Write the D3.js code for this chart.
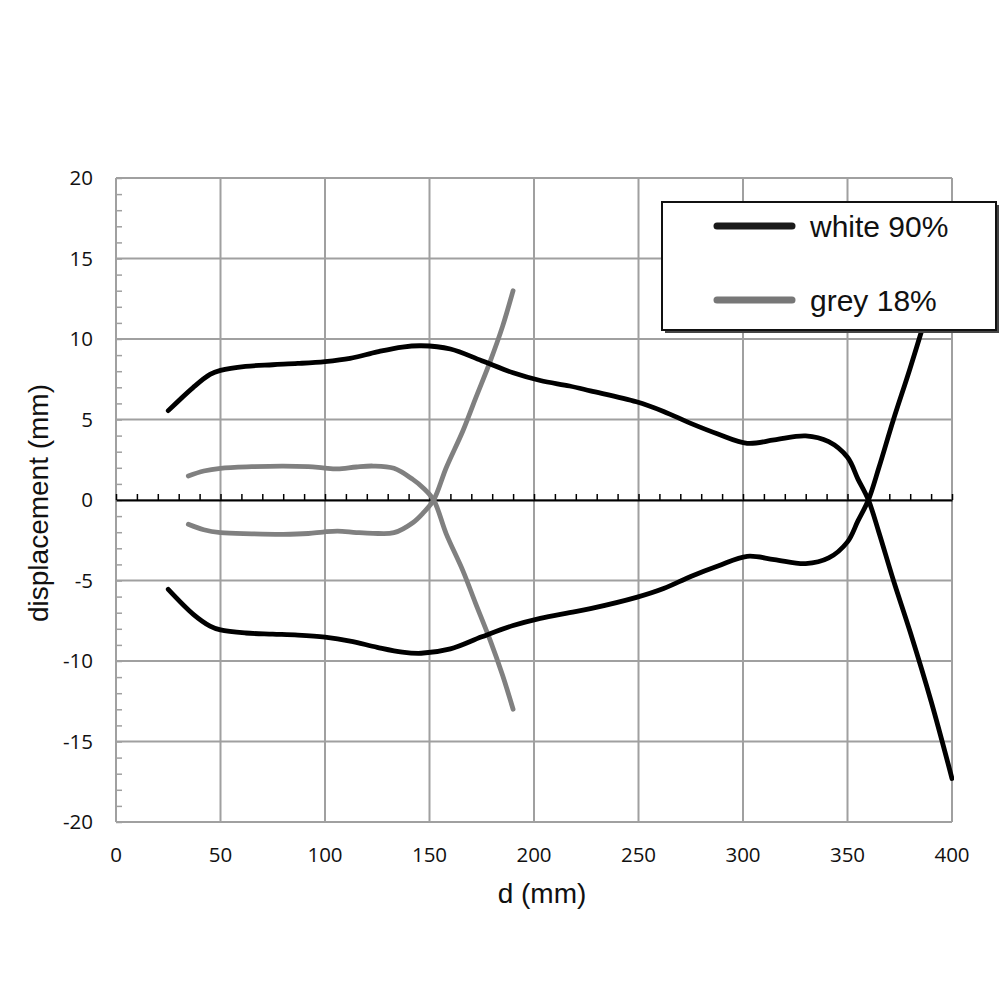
<!DOCTYPE html>
<html>
<head>
<meta charset="utf-8">
<script src="https://cdn.jsdelivr.net/npm/d3@7"></script>
<style>
  html, body { margin: 0; padding: 0; background: #fff; }
  svg { display: block; }
</style>
</head>
<body>
<svg id="chart" width="1000" height="1000"></svg>
<script>
// ---- data ----
const xTicks = [0, 50, 100, 150, 200, 250, 300, 350, 400];
const yTicks = [20, 15, 10, 5, 0, -5, -10, -15, -20];

const whiteUpperD = [25, 37, 45, 50, 62, 75, 87, 100, 112, 125, 137, 146, 160, 175, 190, 203, 217, 227, 249, 262, 275, 288, 302, 315, 330, 341, 350, 355, 360, 365, 372, 380, 390, 400];
const whiteUpperV = [5.55, 7.0, 7.8, 8.05, 8.3, 8.4, 8.48, 8.6, 8.8, 9.2, 9.5, 9.58, 9.38, 8.65, 7.9, 7.42, 7.08, 6.78, 6.1, 5.5, 4.76, 4.1, 3.52, 3.73, 3.98, 3.62, 2.65, 1.3, 0, -2.0, -5.0, -8.2, -12.5, -17.3];

const whiteLowerD = [25, 37, 45, 50, 62, 75, 87, 100, 112, 125, 137, 146, 160, 175, 190, 203, 217, 227, 249, 262, 275, 288, 302, 315, 330, 341, 350, 355, 360, 365, 372, 380, 390, 400];
const whiteLowerV = [-5.55, -7.1, -7.83, -8.07, -8.26, -8.33, -8.39, -8.52, -8.76, -9.15, -9.45, -9.52, -9.25, -8.5, -7.8, -7.35, -7.0, -6.75, -6.05, -5.5, -4.75, -4.1, -3.5, -3.7, -3.95, -3.6, -2.6, -1.3, 0, 2.0, 5.0, 8.2, 12.5, 17.3];

const greyUpperD = [34.6, 42, 50, 65, 80, 92, 99, 106, 115, 123, 133, 142, 147, 152, 158, 166, 172, 179, 185, 190];
const greyUpperV = [1.49, 1.8, 1.97, 2.07, 2.11, 2.07, 2.0, 1.93, 2.05, 2.11, 1.97, 1.28, 0.75, 0, -2.1, -4.4, -6.4, -8.7, -10.9, -13.0];

const greyLowerD = [34.6, 42, 50, 65, 80, 92, 99, 106, 115, 123, 133, 142, 147, 152, 158, 166, 172, 179, 185, 190];
const greyLowerV = [-1.51, -1.85, -2.03, -2.1, -2.13, -2.08, -1.99, -1.93, -2.02, -2.07, -2.03, -1.41, -0.8, 0, 2.0, 4.3, 6.3, 8.6, 10.8, 13.0];

const legendLabels = ["white 90%", "grey 18%"];
const seriesColors = ["#000000", "#808080"];
const legendColors = ["#1a1a1a", "#777777"];

// ---- layout ----
const svg = d3.select("#chart");
const pL = 116, pR = 952, pT = 178, pB = 822;
const x = d3.scaleLinear().domain([0, 400]).range([pL, pR]);
const y = d3.scaleLinear().domain([-20, 20]).range([pB, pT]);
const gridColor = "#a0a0a0";

// grid
const g = svg.append("g");
g.selectAll("line.vg").data(xTicks).enter().append("line")
  .attr("x1", d => x(d)).attr("x2", d => x(d))
  .attr("y1", pT).attr("y2", pB)
  .attr("stroke", gridColor).attr("stroke-width", 2);
g.selectAll("line.hg").data(yTicks).enter().append("line")
  .attr("x1", pL).attr("x2", pR)
  .attr("y1", d => y(d)).attr("y2", d => y(d))
  .attr("stroke", gridColor).attr("stroke-width", 2);

// y minor ticks on left axis (every 1 unit)
const yMinor = d3.range(-20, 21, 1);
const yAxis = d3.axisRight(y).tickValues(yMinor).tickSize(6).tickFormat("");
const ya = svg.append("g").attr("transform", `translate(${pL},0)`).call(yAxis);
ya.select(".domain").remove();
ya.selectAll("line").attr("stroke", gridColor).attr("stroke-width", 1.5);

// y tick labels
svg.append("g").selectAll("text").data(yTicks).enter().append("text")
  .attr("x", 93).attr("y", d => y(d))
  .attr("dy", "0.36em")
  .attr("text-anchor", "end")
  .attr("font-family", "'Open Sans', sans-serif")
  .attr("font-size", 20.5)
  .attr("fill", "#111")
  .text(d => d);

// x tick labels
svg.append("g").selectAll("text").data(xTicks).enter().append("text")
  .attr("x", d => x(d)).attr("y", 855)
  .attr("dy", "0.36em")
  .attr("text-anchor", "middle")
  .attr("font-family", "'Open Sans', sans-serif")
  .attr("font-size", 20.5)
  .attr("fill", "#111")
  .text(d => d);

// zero line with ticks every 10 mm
const xMinor = d3.range(0, 401, 10);
const zeroAxis = d3.axisTop(x).tickValues(xMinor).tickSize(6).tickFormat("").tickSizeOuter(0);
const za = svg.append("g").attr("transform", `translate(0,${y(0)})`).call(zeroAxis);
za.select(".domain").attr("stroke", "#000").attr("stroke-width", 2);
za.selectAll("line").attr("stroke", "#000").attr("stroke-width", 1.5);

// curves
const line = d3.line().x(d => x(d[0])).y(d => y(d[1])).curve(d3.curveCatmullRom.alpha(0.5));
const zip = (a, b) => a.map((d, i) => [d, b[i]]);
const series = [
  { pts: zip(greyUpperD, greyUpperV), color: seriesColors[1] },
  { pts: zip(greyLowerD, greyLowerV), color: seriesColors[1] },
  { pts: zip(whiteUpperD, whiteUpperV), color: seriesColors[0] },
  { pts: zip(whiteLowerD, whiteLowerV), color: seriesColors[0] }
];
svg.append("defs").append("clipPath").attr("id", "plotclip")
  .append("rect").attr("x", pL).attr("y", pT - 2).attr("width", pR - pL + 2).attr("height", pB - pT + 4);
svg.append("g").attr("clip-path", "url(#plotclip)")
  .selectAll("path").data(series).enter().append("path")
  .attr("d", d => line(d.pts))
  .attr("fill", "none")
  .attr("stroke", d => d.color)
  .attr("stroke-width", 4.8)
  .attr("stroke-linecap", "round")
  .attr("stroke-linejoin", "round");

// legend
const lg = svg.append("g");
lg.append("rect").attr("x", 665).attr("y", 205).attr("width", 334).attr("height", 128)
  .attr("fill", "#444");
lg.append("rect").attr("x", 662).attr("y", 202).attr("width", 334).attr("height", 128)
  .attr("fill", "#fff").attr("stroke", "#111").attr("stroke-width", 2);
const legendY = [226, 300];
legendLabels.forEach((lab, i) => {
  lg.append("line").attr("x1", 717).attr("x2", 792)
    .attr("y1", legendY[i]).attr("y2", legendY[i])
    .attr("stroke", legendColors[i]).attr("stroke-width", 7).attr("stroke-linecap", "round");
  lg.append("text").attr("x", 810).attr("y", legendY[i] + 11)
    .attr("font-family", "'Liberation Sans', Arial, sans-serif")
    .attr("font-size", 30)
    .attr("fill", "#111")
    .text(lab);
});

// axis titles
svg.append("text").attr("x", 542).attr("y", 903)
  .attr("text-anchor", "middle")
  .attr("font-family", "'Liberation Sans', Arial, sans-serif")
  .attr("font-size", 28).attr("fill", "#111")
  .text("d (mm)");
svg.append("text")
  .attr("transform", "translate(48,503) rotate(-90)")
  .attr("text-anchor", "middle")
  .attr("font-family", "'Liberation Sans', Arial, sans-serif")
  .attr("font-size", 28).attr("fill", "#111")
  .text("displacement (mm)");
</script>
</body>
</html>
